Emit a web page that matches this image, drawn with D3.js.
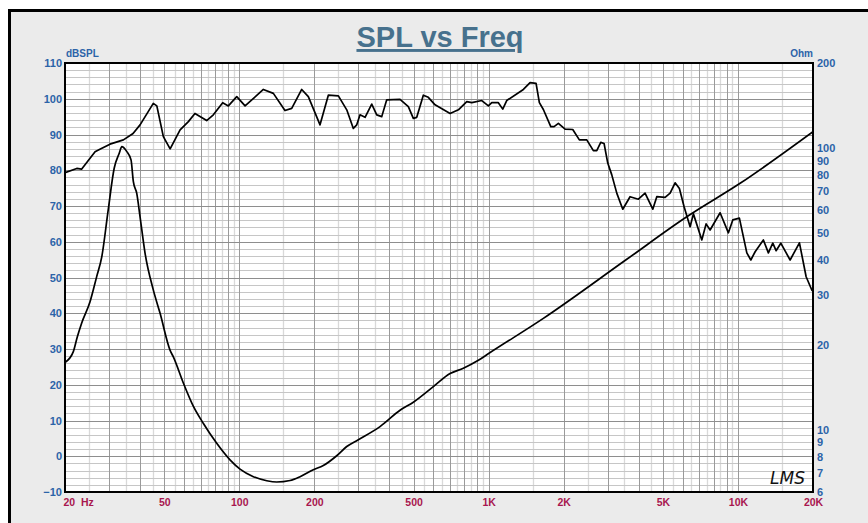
<!DOCTYPE html>
<html>
<head>
<meta charset="utf-8">
<script src="https://cdn.jsdelivr.net/npm/d3@7"></script>
<style>
body { margin: 0; background: #fff; }
svg { display: block; font-family: Arial, "Liberation Sans", sans-serif; }
</style>
</head>
<body>
<svg id="chart" width="868" height="523"></svg>
<script>
// SPL curve (left axis, dB)
var splFreq = [20, 22.3, 23.3, 26.4, 27.6, 30.3, 34.3, 37.5, 40, 45.2, 46.7, 49.6, 52.8, 57.9, 62.5, 66.4, 74, 78.7, 85.8, 90.4,
    97.7, 105.5, 124.9, 137, 152.5, 162.3, 178, 189.2, 210.8, 227.6, 249.7, 269.8, 286.7, 295.9, 305, 319.5, 339.8, 355.9, 372.7, 390.3,
    441.3, 476.5, 499, 515, 547.2, 573, 609.8, 700.6, 756.5, 817.3, 856, 938.8, 997.8, 1029.6, 1094, 1139.5, 1182, 1378.6, 1466.6, 1550,
    1598, 1658, 1775.6, 1830.5, 1904.7, 2026, 2175, 2312, 2475.6, 2631, 2715, 2817, 2904, 3005, 3119, 3266, 3452, 3692, 3987, 4241,
    4555, 4726, 5103, 5345, 5597, 5824, 6082, 6429, 6628, 7162, 7452, 7732, 8481, 9156, 9535, 10135, 10854, 11263, 11721, 12648,
    13245, 13797, 14224, 14856, 16190, 17646, 18772, 19780, 20000];
var splDb = [79.3, 80.5, 80.3, 85.2, 85.9, 87.3, 88.5, 90.3, 92.7, 98.7, 98.0, 89.4, 86.0, 91.3, 93.6, 95.9, 93.9, 95.5, 98.9, 98.0,
    100.6, 98.0, 102.6, 101.5, 96.7, 97.3, 102.6, 100.6, 92.7, 101.0, 100.8, 96.9, 91.7, 92.7, 95.5, 94.8, 98.5, 95.5, 95.0, 99.7,
    99.8, 97.8, 94.5, 94.8, 101.0, 100.4, 98.3, 95.9, 96.9, 99.2, 98.9, 99.5, 98.0, 98.9, 98.9, 97.1, 99.5, 102.6, 104.5, 104.3,
    98.9, 97.0, 92.2, 92.2, 93.1, 91.5, 91.4, 88.5, 88.5, 85.5, 85.5, 87.8, 87.5, 82.0, 78.7, 73.6, 69.1, 72.6, 71.9, 73.6,
    69.1, 72.6, 72.4, 73.6, 76.5, 74.9, 69.8, 64.2, 67.8, 60.5, 65.0, 63.3, 68.1, 62.5, 66.1, 66.6, 56.9, 54.9, 57.2, 60.5,
    56.9, 59.6, 57.5, 59.6, 54.9, 59.7, 50.2, 46.5, 46.2];

// impedance curve (right axis, Ohm)
var impFreq = [20, 21.6, 22.4, 23.3, 25.2, 26.8, 28.1, 29.8, 31.5, 33, 33.8, 35.4, 36.8, 37.6, 38.8, 40, 41.9, 45.2, 48.1, 52.8,
    54.4, 59.7, 65.4, 71.8, 81.2, 91.8, 100.7, 113.9, 128.9, 141.3, 159.8, 175.3, 198.2, 217.3, 245.9, 269.8, 300.3, 366.8, 441.3, 499,
    600.4, 700.6, 792, 909.8, 1000, 1658, 3582, 6234, 10202, 20000];
var impOhm = [17.3, 18.9, 21.3, 23.8, 28.4, 34.9, 41.1, 60.1, 84.6, 95.6, 100.9, 96.9, 90.6, 75.8, 68.9, 56.9, 42.2, 31.3, 25.9, 19.1,
    18.1, 14.6, 12.1, 10.5, 8.93, 7.80, 7.23, 6.80, 6.58, 6.51, 6.59, 6.8, 7.2, 7.45, 8.07, 8.7, 9.2, 10.24, 11.7, 12.5,
    14.2, 15.8, 16.5, 17.6, 18.6, 24.8, 40.2, 56.9, 74.8, 114.1];

// tick labels
var freqTicks = [20, 50, 100, 200, 500, 1000, 2000, 5000, 10000, 20000];
var freqLabels = ['20  Hz', '50', '100', '200', '500', '1K', '2K', '5K', '10K', '20K'];
var dbTicks = [-10, 0, 10, 20, 30, 40, 50, 60, 70, 80, 90, 100, 110];
var ohmTicks = [6, 7, 8, 9, 10, 20, 30, 40, 50, 60, 70, 80, 90, 100, 200];

var svg = d3.select('#chart');
var plot = {left: 65, right: 813, top: 63, bottom: 492};

var x = d3.scaleLog().domain([20, 20000]).range([plot.left, plot.right]);
var y = d3.scaleLinear().domain([-10, 110]).range([plot.bottom, plot.top]);
var yR = d3.scaleLog().domain([6, 200]).range([plot.bottom, plot.top]);

// panel frame
svg.append('rect')
    .attr('x', 9.5).attr('y', 10.5).attr('width', 880).attr('height', 530)
    .attr('fill', '#ebebeb').attr('stroke', '#000').attr('stroke-width', 3);

svg.append('rect')
    .attr('x', plot.left).attr('y', plot.top)
    .attr('width', plot.right - plot.left).attr('height', plot.bottom - plot.top)
    .attr('fill', '#fff');

// ----------------- GRID -----------------
var xMajor = [], xMinor = [];
[10, 100, 1000, 10000].forEach(function(d) {
    for (var k = 1; k <= 9; k++) {
        if (k * d > 20 && k * d < 20000) xMajor.push(k * d);
        if ((k + 0.5) * d > 20 && (k + 0.5) * d < 20000) xMinor.push((k + 0.5) * d);
    }
});
var yMinor = d3.range(-8, 110, 2).filter(function(v) { return v % 10 !== 0; });
var yMajor = d3.range(0, 110, 10);

var grid = svg.append('g');
grid.selectAll('.xminor').data(xMinor).enter().append('line')
    .attr('x1', function(d) { return Math.round(x(d)) + 0.5; })
    .attr('x2', function(d) { return Math.round(x(d)) + 0.5; })
    .attr('y1', plot.top).attr('y2', plot.bottom)
    .attr('stroke', '#d9d9d9').attr('stroke-width', 1.3);
grid.selectAll('.yminor').data(yMinor).enter().append('line')
    .attr('x1', plot.left).attr('x2', plot.right)
    .attr('y1', function(d) { return Math.round(y(d)) + 0.5; })
    .attr('y2', function(d) { return Math.round(y(d)) + 0.5; })
    .attr('stroke', '#c6c6c6').attr('stroke-width', 1.2);
grid.selectAll('.xmajor').data(xMajor).enter().append('line')
    .attr('x1', function(d) { return Math.round(x(d)) + 0.5; })
    .attr('x2', function(d) { return Math.round(x(d)) + 0.5; })
    .attr('y1', plot.top).attr('y2', plot.bottom)
    .attr('stroke', '#9a9a9a').attr('stroke-width', 1);
grid.selectAll('.ymajor').data(yMajor).enter().append('line')
    .attr('x1', plot.left).attr('x2', plot.right)
    .attr('y1', function(d) { return Math.round(y(d)) + 0.5; })
    .attr('y2', function(d) { return Math.round(y(d)) + 0.5; })
    .attr('stroke', '#8e8e8e').attr('stroke-width', 1);

// ----------------- CURVES -----------------
svg.append('clipPath').attr('id', 'clip').append('rect')
    .attr('x', plot.left).attr('y', plot.top)
    .attr('width', plot.right - plot.left).attr('height', plot.bottom - plot.top);

var spl = d3.zip(splFreq, splDb);
var imp = d3.zip(impFreq, impOhm);

svg.append('path').datum(imp)
    .attr('clip-path', 'url(#clip)')
    .attr('fill', 'none').attr('stroke', '#000').attr('stroke-width', 1.7)
    .attr('d', d3.line().curve(d3.curveMonotoneX)
        .x(function(d) { return x(d[0]); })
        .y(function(d) { return yR(d[1]); }));

svg.append('path').datum(spl)
    .attr('clip-path', 'url(#clip)')
    .attr('fill', 'none').attr('stroke', '#000').attr('stroke-width', 1.7)
    .attr('stroke-linejoin', 'round')
    .attr('d', d3.line()
        .x(function(d) { return x(d[0]); })
        .y(function(d) { return y(d[1]); }));

svg.append('rect')
    .attr('x', plot.left).attr('y', plot.top)
    .attr('width', plot.right - plot.left).attr('height', plot.bottom - plot.top)
    .attr('fill', 'none').attr('stroke', '#000').attr('stroke-width', 2);

// ----------------- AXES -----------------
var left = svg.append('g')
    .attr('transform', 'translate(' + plot.left + ',0)')
    .call(d3.axisLeft(y).tickValues(dbTicks).tickSize(0).tickPadding(3));
var right = svg.append('g')
    .attr('transform', 'translate(' + plot.right + ',0)')
    .call(d3.axisRight(yR).tickValues(ohmTicks).tickFormat(d3.format('d')).tickSize(0).tickPadding(4));
var bottom = svg.append('g')
    .attr('transform', 'translate(0,' + plot.bottom + ')')
    .call(d3.axisBottom(x).tickValues(freqTicks)
        .tickFormat(function(d, i) { return freqLabels[i]; })
        .tickSize(0).tickPadding(7));

[left, right, bottom].forEach(function(g) {
    g.select('.domain').remove();
    g.attr('font-family', null).attr('font-size', null);
    g.selectAll('text').attr('font-weight', 'bold');
});
left.selectAll('text').attr('fill', '#2b63a8').attr('font-size', 11);
right.selectAll('text').attr('fill', '#2b63a8').attr('font-size', 11);
bottom.selectAll('text').attr('fill', '#a8164f').attr('font-size', 10.5)
    .style('white-space', 'pre');
bottom.select('.tick text').attr('text-anchor', 'start').attr('x', -2);

svg.append('text')
    .attr('x', 66).attr('y', 57)
    .attr('fill', '#2b63a8').attr('font-size', 10).attr('font-weight', 'bold')
    .text('dBSPL');
svg.append('text')
    .attr('x', 813).attr('y', 57).attr('text-anchor', 'end')
    .attr('fill', '#2b63a8').attr('font-size', 10).attr('font-weight', 'bold')
    .text('Ohm');

// title
svg.append('text')
    .attr('x', 440).attr('y', 47).attr('text-anchor', 'middle')
    .attr('fill', '#47718d').attr('font-size', 29).attr('font-weight', 'bold')
    .style('text-decoration', 'underline')
    .text('SPL vs Freq');

// signature
svg.append('text')
    .attr('x', 770).attr('y', 484)
    .attr('font-family', '"DejaVu Sans", sans-serif')
    .attr('font-size', 17).attr('font-style', 'italic')
    .attr('textLength', 35).attr('lengthAdjust', 'spacingAndGlyphs')
    .attr('fill', '#111')
    .text('LMS');
</script>
</body>
</html>
